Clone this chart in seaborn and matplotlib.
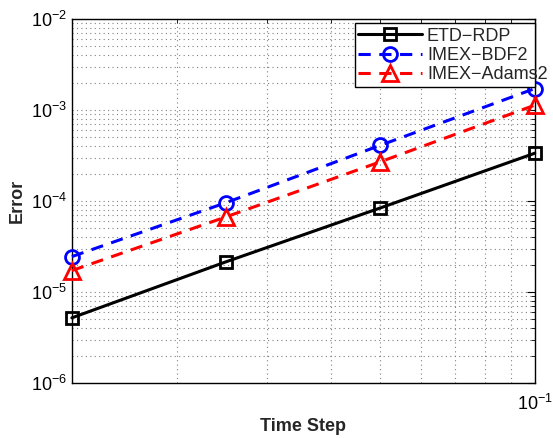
import numpy as np
import pandas as pd
import matplotlib
matplotlib.use("Agg")
import matplotlib.pyplot as plt
import seaborn as sns
from matplotlib.ticker import LogLocator, NullFormatter
from matplotlib.patches import Rectangle

# ---- data ----
time_step = [0.0125, 0.025, 0.05, 0.1]
etd_rdp = [5.2e-6, 2.15e-5, 8.4e-5, 3.35e-4]
imex_bdf2 = [2.45e-5, 9.6e-5, 4.1e-4, 1.72e-3]
imex_adams2 = [1.72e-5, 6.7e-5, 2.7e-4, 1.13e-3]
labels = ["ETD\u2212RDP", "IMEX\u2212BDF2", "IMEX\u2212Adams2"]

sns.set_style("white")
plt.rcParams["font.family"] = ["Liberation Sans", "DejaVu Sans"]
plt.rcParams["mathtext.fontset"] = "custom"
plt.rcParams["mathtext.rm"] = "Liberation Sans"
plt.rcParams["mathtext.it"] = "Liberation Sans:italic"
plt.rcParams["mathtext.bf"] = "Liberation Sans:bold"

fig = plt.figure(figsize=(5.53, 4.38), dpi=100)
ax = fig.add_axes([0.130, 0.1256, 0.837, 0.831])

series = [
    (etd_rdp, "black", "s", "-", 8),
    (imex_bdf2, "blue", "o", "--", 10),
    (imex_adams2, "red", "^", "--", 12),
]
for (vals, col, mk, ls, ms), lab in zip(series, labels):
    sns.lineplot(x=time_step, y=vals, ax=ax, color=col, marker=mk,
                 linestyle=ls, linewidth=2.2, markersize=ms,
                 markerfacecolor="none", markeredgecolor=col,
                 markeredgewidth=2, label=lab, clip_on=False, zorder=3)

for line in ax.get_lines()[1:]:
    line.set_dashes((4, 2.8))

ax.set_xscale("log")
ax.set_yscale("log")
ax.set_xlim(0.0125, 0.1)
ax.set_ylim(1e-6, 1e-2)

ax.xaxis.set_major_locator(LogLocator(base=10))
ax.xaxis.set_minor_locator(LogLocator(base=10, subs=np.arange(2, 10)))
ax.xaxis.set_minor_formatter(NullFormatter())
ax.yaxis.set_major_locator(LogLocator(base=10))
ax.yaxis.set_minor_locator(LogLocator(base=10, subs=np.arange(2, 10)))
ax.yaxis.set_minor_formatter(NullFormatter())

ax.grid(True, which="both", color="0.5", linestyle=(0, (1, 3)), linewidth=0.8)
ax.tick_params(which="both", direction="in", top=True, right=True,
               labelsize=13, colors="black")
ax.tick_params(axis="x", which="major", pad=8)
ax.tick_params(which="major", length=6, width=0.8)
ax.tick_params(which="minor", length=3, width=0.6)
for s in ax.spines.values():
    s.set_color("black")
    s.set_linewidth(1.0)

ax.set_xlabel("Time Step", fontsize=13, fontweight="bold", labelpad=3)
ax.set_ylabel("Error", fontsize=13, fontweight="bold", labelpad=4)

leg = ax.legend(loc="upper left", bbox_to_anchor=(0.611, 0.986),
                fontsize=13, frameon=False, handlelength=3.5,
                borderaxespad=0.0, borderpad=0.2, labelspacing=0.12,
                handletextpad=0.3)
leg.set_zorder(5)

# legend frame: from legend left edge to the right spine (MATLAB-like box)
fig.canvas.draw()
lb = leg.get_window_extent().transformed(ax.transAxes.inverted())
frame = Rectangle((lb.x0, lb.y0), 1.0 - lb.x0, 0.989 - lb.y0,
                  transform=ax.transAxes, facecolor="white",
                  edgecolor="black", linewidth=1.0, zorder=4, clip_on=False)
ax.add_patch(frame)

fig.savefig("out.png", dpi=100)
